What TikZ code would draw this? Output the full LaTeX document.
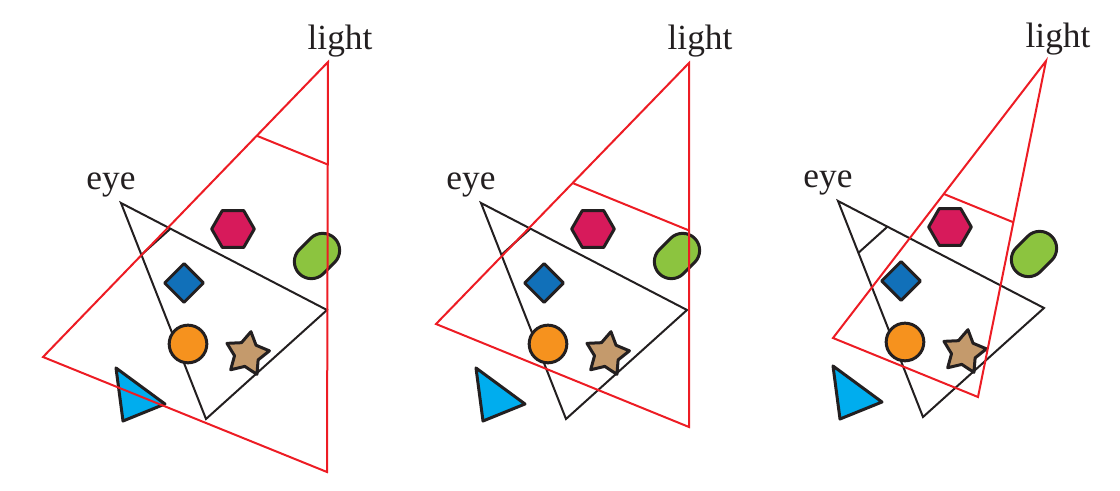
\documentclass[tikz,border=0pt]{standalone}
\usepackage{fontspec}
\setmainfont{Liberation Serif}
\usepackage{tikz}
\usetikzlibrary{shapes.geometric, shapes.misc, calc}
\definecolor{outline}{HTML}{231F20}
\definecolor{frustumred}{HTML}{ED1C24}
\definecolor{hexred}{HTML}{D71A5B}
\definecolor{ovalgreen}{HTML}{8CC43F}
\definecolor{diamondblue}{HTML}{1170B9}
\definecolor{ballorange}{HTML}{F6921E}
\definecolor{startan}{HTML}{C49A6C}
\definecolor{wedgecyan}{HTML}{00ADEE}
\tikzstyle{frustum} = [line width=0.6pt]
\tikzstyle{eyefrustum} = [frustum, draw=outline]
\tikzstyle{lightfrustum} = [frustum, draw=frustumred]
\tikzstyle{sceneobj} = [draw=outline, line width=0.9pt, line join=round,
    inner sep=0pt]
\tikzstyle{viewlabel} = [anchor=base, inner sep=0pt, text=outline,
    font=\fontsize{10.6}{12}\selectfont]

\begin{document}
\begin{tikzpicture}[x=0.3pt, y=-0.3pt]
            \useasboundingbox (0,0) rectangle (1120,491);
            % Eye frusta and objects, one per panel
            \foreach \i/\dx/\dy in {1/0/0, 2/360/0, 3/717/-2} {
            \begin{scope}[shift={(\dx,\dy)}]
            \coordinate (eye\i) at (121,203);
            \coordinate (eyefarA\i) at (327,310);
            \coordinate (eyefarB\i) at (206,419);
            \node[viewlabel] (eyelbl\i) at (111,190) {eye};
            \draw[eyefrustum] (eye\i) -- (eyefarA\i) -- (eyefarB\i) -- cycle;
            \draw[eyefrustum] ($(eye\i)!0.24!(eyefarA\i)$)
            -- ($(eye\i)!0.24!(eyefarB\i)$);
            \node[sceneobj, regular polygon, regular polygon sides=6,
            minimum size=12.8pt, fill=hexred] (hex\i) at (233,229) {};
            \node[sceneobj, rounded rectangle, minimum width=15pt,
            minimum height=10.2pt, rotate=45, fill=ovalgreen] (oval\i) at (317,256) {};
            \node[sceneobj, diamond, minimum width=12pt, minimum height=12pt,
            fill=diamondblue] (dia\i) at (184,283) {};
            \node[sceneobj, circle, minimum size=11.3pt, fill=ballorange]
            (ball\i) at (188,344) {};
            \node[sceneobj, star, star points=5, star point ratio=1.8,
            minimum size=13.6pt, rotate=-10, fill=startan] (star\i) at (247,354) {};
            \filldraw[sceneobj, fill=wedgecyan] (116,368) -- (123,421)
            -- (165,404) -- cycle;
            \end{scope}
            }
            % Light frusta
            \coordinate (light1) at (328,62);
            \coordinate (lightfarA1) at (43,357);
            \coordinate (lightfarB1) at (327,472);
            \coordinate (light2) at (689,63);
            \coordinate (lightfarA2) at (436,324);
            \coordinate (lightfarB2) at (689,427);
            \coordinate (light3) at (1046,61);
            \coordinate (lightfarA3) at (833,338);
            \coordinate (lightfarB3) at (978,397);
            \node[viewlabel] (lightlbl1) at (340,50) {light};
            \node[viewlabel] (lightlbl2) at (700,50) {light};
            \node[viewlabel] (lightlbl3) at (1058,48) {light};
            \draw[lightfrustum] (light1) -- (lightfarA1) -- (lightfarB1) -- cycle;
            \draw[lightfrustum] ($(light1)!0.25!(lightfarA1)$)
            -- ($(light1)!0.25!(lightfarB1)$);
            \draw[lightfrustum] (light2) -- (lightfarA2) -- (lightfarB2) -- cycle;
            \draw[lightfrustum] ($(light2)!0.46!(lightfarA2)$)
            -- ($(light2)!0.46!(lightfarB2)$);
            \draw[lightfrustum] (light3) -- (lightfarA3) -- (lightfarB3) -- cycle;
            \draw[lightfrustum] ($(light3)!0.48!(lightfarA3)$)
            -- ($(light3)!0.48!(lightfarB3)$);

        \end{tikzpicture}
\end{document}
